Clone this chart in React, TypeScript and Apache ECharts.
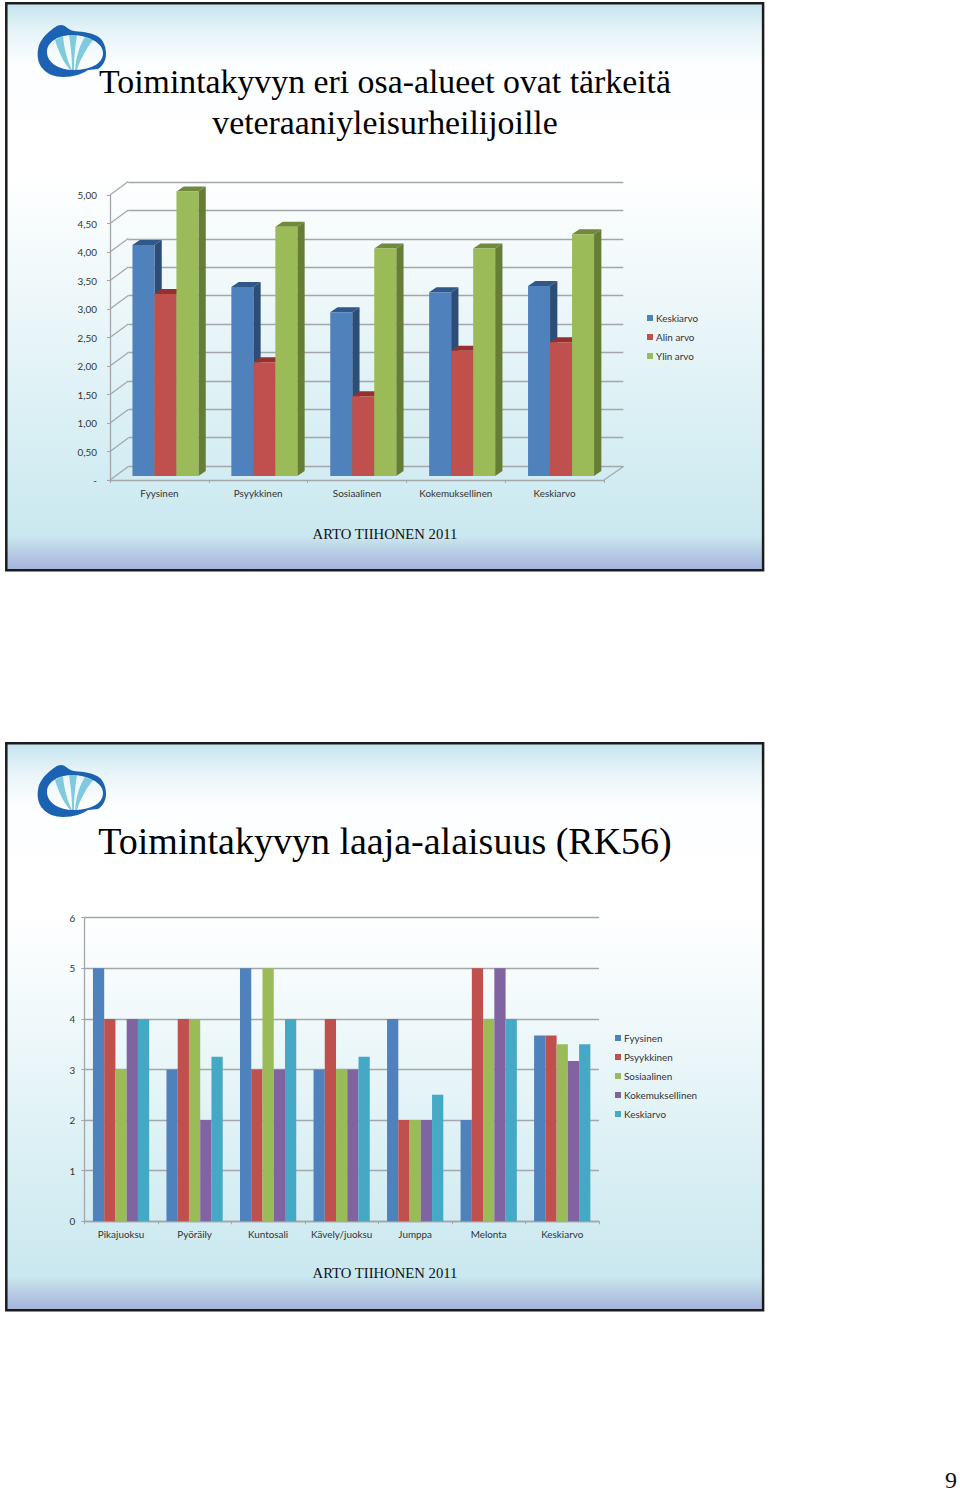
import React, { useEffect, useRef } from "react";
import * as echarts from "echarts";

// ---- data ----
const abilityCategories = ["Fyysinen", "Psyykkinen", "Sosiaalinen", "Kokemuksellinen", "Keskiarvo"];
const keskiarvo3d = [4.06, 3.32, 2.88, 3.23, 3.34];
const alinArvo = [3.2, 2.0, 1.4, 2.2, 2.35];
const ylinArvo = [5.0, 4.38, 4.0, 4.0, 4.25];
const wallTicks = [0, 0.5, 1, 1.5, 2, 2.5, 3, 3.5, 4, 4.5, 5];

const sportCategories = ["Pikajuoksu", "Pyöräily", "Kuntosali", "Kävely/juoksu", "Jumppa", "Melonta", "Keskiarvo"];
const fyysinen = [5, 3, 5, 3, 4, 2, 3.67];
const psyykkinen = [4, 4, 3, 4, 2, 5, 3.67];
const sosiaalinen = [3, 4, 5, 3, 2, 4, 3.5];
const kokemuksellinen = [4, 2, 3, 3, 2, 5, 3.17];
const keskiarvo2d = [4, 3.25, 4, 3.25, 2.5, 4, 3.5];

const title1 = "Toimintakyvyn eri osa-alueet ovat tärkeitä\nveteraaniyleisurheilijoille";
const title2 = "Toimintakyvyn laaja-alaisuus (RK56)";
const footer = "ARTO TIIHONEN 2011";

// ---- style ----
const SANS = "Lato";
const SERIF = "Liberation Serif";
const TEXT = "#333333";
const GRID = "#a3a7a9";
const COL = { blue: "#4f81bd", red: "#c0504d", green: "#9bbb59", purple: "#8064a2", teal: "#45a9c6" };
const SIDE = { blue: "#2c4d75", red: "#8c3230", green: "#667d35" };
const TOP = { blue: "#305888", red: "#95302e", green: "#6f8a3a" };
const DX = 7.3, DY = 5, BW3D = 22;

echarts.graphic.registerShape(
  "logoRing",
  echarts.graphic.extendPath(
    "M61 25 C66 25 68 30 74 31 C84 32 94 33 100 38 C104 42 106 48 106 54 C106 60 103 66 98 69 L88 70 C82 74 74 77 63 77 C55 77 47 74 43 69 C38 64 37 56 38 50 C39 42 44 36 50 31 C54 28 57 25 61 25 Z " +
      "M72 35 C60 35 47 41 47 52 C47 63 60 70 73 70 C88 70 103 65 103 53 C103 42 86 35 72 35 Z",
    {}
  )
);
echarts.graphic.registerShape(
  "logoRibs",
  echarts.graphic.extendPath(
    "M55 40 L63 36 C64 48 67 60 72 70 L70 70 C63 62 58 50 55 40 Z " +
      "M69 35 L77 35 C75 47 74 60 74 70 L72 70 C72 60 71 47 69 35 Z " +
      "M85 37 L93 40 C86 49 80 60 77 70 L75 70 C76 58 79 46 85 37 Z",
    {}
  )
);

const slideBg = (y: number) => ({
  type: "rect",
  z: -10,
  shape: { x: 6.3, y, width: 756.8, height: 567 },
  style: {
    stroke: "#1c1c1c",
    lineWidth: 2.5,
    fill: new echarts.graphic.LinearGradient(0, 0, 0, 1, [
      { offset: 0, color: "#c4e3ee" },
      { offset: 0.05, color: "#e6f4f8" },
      { offset: 0.11, color: "#fdfeff" },
      { offset: 0.3, color: "#ffffff" },
      { offset: 0.5, color: "#eff8fa" },
      { offset: 0.75, color: "#d9eff4" },
      { offset: 0.94, color: "#cae8f0" },
      { offset: 0.97, color: "#b8cbe3" },
      { offset: 1, color: "#a3b3dc" },
    ]),
  },
});

const logo = (y: number) => ({
  type: "group",
  y,
  z: -5,
  children: [
    { type: "logoRibs", z: -5, style: { fill: "#7fcbdd" } },
    { type: "logoRing", z: -5, style: { fill: "#1c62b3" } },
  ],
});

const axisLine = { show: true, lineStyle: { color: GRID, width: 1.3 } };
const axisTick = { show: true, length: 3, lineStyle: { color: GRID, width: 1 } };
const labelStyle = { color: TEXT, fontFamily: SANS, fontSize: 9.9 };

const makeOption = () => {
  const series3d = [
    { name: "Keskiarvo", data: keskiarvo3d, key: "blue" },
    { name: "Alin arvo", data: alinArvo, key: "red" },
    { name: "Ylin arvo", data: ylinArvo, key: "green" },
  ];
  const series2d = [
    { name: "Fyysinen", data: fyysinen, color: COL.blue },
    { name: "Psyykkinen", data: psyykkinen, color: COL.red },
    { name: "Sosiaalinen", data: sosiaalinen, color: COL.green },
    { name: "Kokemuksellinen", data: kokemuksellinen, color: COL.purple },
    { name: "Keskiarvo", data: keskiarvo2d, color: COL.teal },
  ];

  const seriesList: any[] = [];

  // wall diagonals + floor edges on the front plane
  seriesList.push({
    type: "custom",
    name: "wall",
    xAxisIndex: 0,
    yAxisIndex: 0,
    silent: true,
    data: wallTicks.map((v) => [0, v]),
    encode: { x: 0, y: 1 },
    renderItem: (params: any, api: any) => {
      const v = api.value(1);
      const yy = api.coord([0, v])[1];
      const cs = params.coordSys;
      const children: any[] = [
        {
          type: "line",
          shape: { x1: cs.x, y1: yy, x2: cs.x + 18.3, y2: yy - 13.6 },
          style: { stroke: GRID, lineWidth: 1.2 },
        },
      ];
      if (v === 0) {
        children.push({
          type: "line",
          shape: { x1: cs.x + cs.width, y1: yy, x2: cs.x + cs.width + 19.5, y2: yy - 13.6 },
          style: { stroke: GRID, lineWidth: 1.2 },
        });
      }
      return { type: "group", children };
    },
  });

  // 3D bars: front face as a bar series, then side + top from the same value
  series3d.forEach((s, i) => {
    const key = s.key as "blue" | "red" | "green";
    seriesList.push({
      type: "bar",
      name: s.name,
      xAxisIndex: 1,
      yAxisIndex: 1,
      data: s.data,
      barWidth: BW3D,
      barGap: "0%",
      itemStyle: { color: COL[key] },
      silent: true,
    });
    seriesList.push({
      type: "custom",
      name: s.name,
      xAxisIndex: 1,
      yAxisIndex: 1,
      silent: true,
      data: s.data.map((v, idx) => [idx, v]),
      encode: { x: 0, y: 1 },
      renderItem: (_p: any, api: any) => {
        const idx = api.value(0);
        const val = api.value(1);
        const c = api.coord([idx, val]);
        const base = api.coord([idx, 0])[1];
        const left = c[0] + (i - 1.5) * BW3D;
        const right = left + BW3D;
        const y = c[1];
        return {
          type: "group",
          children: [
            {
              type: "polygon",
              shape: { points: [[right, y], [right + DX, y - DY], [right + DX, base - DY], [right, base]] },
              style: { fill: SIDE[key] },
            },
            {
              type: "polygon",
              shape: { points: [[left, y], [left + DX, y - DY], [right + DX, y - DY], [right, y]] },
              style: { fill: TOP[key] },
            },
          ],
        };
      },
    });
  });

  series2d.forEach((s) => {
    seriesList.push({
      type: "bar",
      name: s.name,
      xAxisIndex: 3,
      yAxisIndex: 3,
      data: s.data,
      barWidth: 11.25,
      barGap: "0%",
      itemStyle: { color: s.color },
      silent: true,
    });
  });

  const titleBase = { left: 385, textAlign: "center", padding: 0 };
  return {
    animation: false,
    backgroundColor: "#ffffff",
    title: [
      {
        ...titleBase,
        top: 61,
        text: title1,
        textStyle: { fontFamily: SERIF, fontSize: 33.8, fontWeight: "normal", color: "#000", lineHeight: 41 },
      },
      {
        ...titleBase,
        top: 818,
        text: title2,
        textStyle: { fontFamily: SERIF, fontSize: 38, fontWeight: "normal", color: "#000", lineHeight: 46 },
      },
      {
        ...titleBase,
        top: 525,
        text: footer,
        textStyle: { fontFamily: SERIF, fontSize: 14.7, fontWeight: "normal", color: "#111", lineHeight: 18 },
      },
      {
        ...titleBase,
        top: 1264,
        text: footer,
        textStyle: { fontFamily: SERIF, fontSize: 14.7, fontWeight: "normal", color: "#111", lineHeight: 18 },
      },
      {
        ...titleBase,
        left: 951,
        top: 1470,
        text: "9",
        textStyle: { fontFamily: SERIF, fontSize: 24, fontWeight: "normal", color: "#111", lineHeight: 20 },
      },
    ],
    graphic: {
      elements: [slideBg(3.2), slideBg(743.2), logo(0), logo(740)],
    },
    legend: [
      {
        orient: "vertical",
        left: 647,
        top: 313,
        padding: 0,
        itemWidth: 6,
        itemHeight: 6,
        itemGap: 9,
        icon: "rect",
        selectedMode: false,
        textStyle: { ...labelStyle, padding: [0, 0, 0, -2] },
        data: series3d.map((s) => s.name),
      },
      {
        orient: "vertical",
        left: 615,
        top: 1033,
        padding: 0,
        itemWidth: 6,
        itemHeight: 6,
        itemGap: 9,
        icon: "rect",
        selectedMode: false,
        textStyle: { ...labelStyle, padding: [0, 0, 0, -2] },
        data: series2d.map((s) => ({ name: s.name, itemStyle: { color: s.color } })),
      },
    ],
    grid: [
      { left: 110, top: 195, width: 494, height: 285 }, // front plane
      { left: 116, top: 191.5, width: 494.5, height: 284.5 }, // bar plane
      { left: 128.3, top: 182, width: 495, height: 284 }, // back wall
      { left: 84.3, top: 917.7, width: 514.7, height: 303.6 }, // flat chart
    ],
    xAxis: [
      {
        gridIndex: 0,
        type: "category",
        data: abilityCategories,
        axisLine,
        axisTick,
        axisLabel: { ...labelStyle, margin: 8, interval: 0 },
      },
      { gridIndex: 1, type: "category", data: abilityCategories, show: false },
      { gridIndex: 2, type: "category", data: abilityCategories, show: false },
      {
        gridIndex: 3,
        type: "category",
        data: sportCategories,
        axisLine,
        axisTick,
        axisLabel: { ...labelStyle, margin: 8, interval: 0 },
      },
    ],
    yAxis: [
      {
        gridIndex: 0,
        type: "value",
        min: 0,
        max: 5,
        interval: 0.5,
        axisLine,
        axisTick,
        splitLine: { show: false },
        axisLabel: {
          ...labelStyle,
          margin: 13,
          padding: [3, 0, 0, 0],
          formatter: (v: number) => (v === 0 ? "-" : v.toFixed(2).replace(".", ",")),
        },
      },
      { gridIndex: 1, type: "value", min: 0, max: 5, interval: 0.5, show: false, splitLine: { show: false } },
      {
        gridIndex: 2,
        type: "value",
        min: 0,
        max: 5,
        interval: 0.5,
        axisLine: { show: false },
        axisTick: { show: false },
        axisLabel: { show: false },
        splitLine: { show: true, lineStyle: { color: GRID, width: 1.3 } },
      },
      {
        gridIndex: 3,
        type: "value",
        min: 0,
        max: 6,
        interval: 1,
        axisLine,
        axisTick,
        splitLine: { show: true, lineStyle: { color: GRID, width: 1.3 } },
        axisLabel: { ...labelStyle, margin: 9 },
      },
    ],
    series: seriesList,
  };
};

export default function App() {
  const ref = useRef<HTMLDivElement>(null);
  useEffect(() => {
    const chart = echarts.init(ref.current!, undefined, { renderer: "svg" });
    chart.setOption(makeOption() as any);
    return () => chart.dispose();
  }, []);
  return <div ref={ref} style={{ position: "absolute", left: 0, top: 0, width: 960, height: 1494 }} />;
}
